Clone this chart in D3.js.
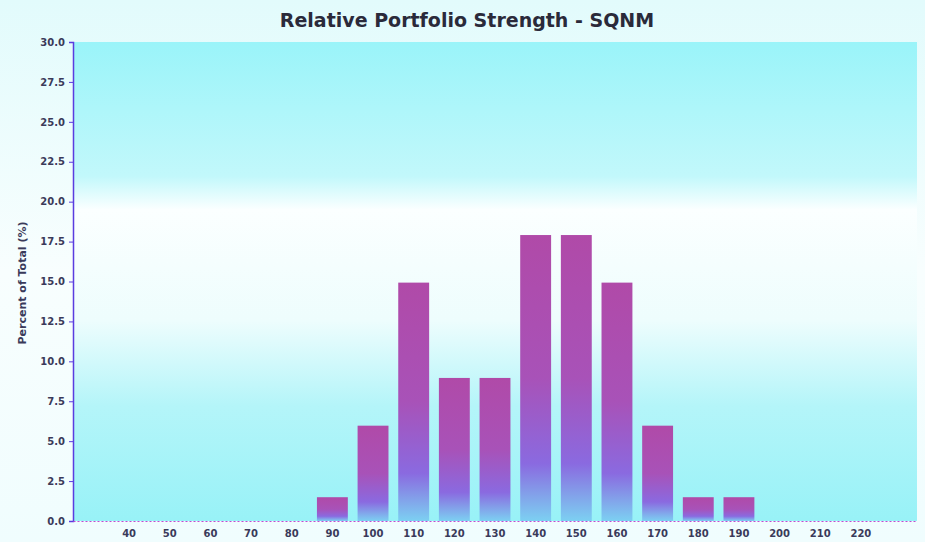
<!DOCTYPE html>
<html>
<head>
<meta charset="utf-8">
<script src="https://cdn.jsdelivr.net/npm/d3@7"></script>
<style>
  body { margin: 0; background: #fff; }
  svg { display: block; font-family: Arial, "Liberation Sans", sans-serif; }
</style>
</head>
<body>
<div id="chart"></div>
<script>
// Data
var categories = ["40","50","60","70","80","90","100","110","120","130","140","150","160","170","180","190","200","210","220"];
var percents   = [0, 0, 0, 0, 0, 1.49, 5.97, 14.93, 8.96, 8.96, 17.91, 17.91, 14.93, 5.97, 1.49, 1.49, 0, 0, 0];
var yTicks = [0, 2.5, 5, 7.5, 10, 12.5, 15, 17.5, 20, 22.5, 25, 27.5, 30];

var W = 925, H = 542;
var margin = {top: 42, right: 8, bottom: 21, left: 73};
var width = W - margin.left - margin.right;
var height = H - margin.top - margin.bottom;

var svg = d3.select("#chart").append("svg")
	.attr("width", W)
	.attr("height", H);

var defs = svg.append("defs");

// page background: faint cyan wash
var pageGrad = defs.append("linearGradient")
	.attr("id", "pageGrad").attr("x1", 0).attr("y1", 0).attr("x2", 0).attr("y2", 1);
pageGrad.append("stop").attr("offset", "0%").attr("stop-color", "#e2fbfc");
pageGrad.append("stop").attr("offset", "50%").attr("stop-color", "#f8fefe");
pageGrad.append("stop").attr("offset", "100%").attr("stop-color", "#f0fdfe");

// plot background: cyan top, white middle, cyan bottom
var plotGrad = defs.append("linearGradient")
	.attr("id", "plotGrad").attr("x1", 0).attr("y1", 0).attr("x2", 0).attr("y2", 1);
plotGrad.append("stop").attr("offset", "0%").attr("stop-color", "#9af4f9");
plotGrad.append("stop").attr("offset", "28%").attr("stop-color", "#c2f8fb");
plotGrad.append("stop").attr("offset", "35%").attr("stop-color", "#fbffff");
plotGrad.append("stop").attr("offset", "58%").attr("stop-color", "#eefdfd");
plotGrad.append("stop").attr("offset", "76%").attr("stop-color", "#b4f5f9");
plotGrad.append("stop").attr("offset", "100%").attr("stop-color", "#98f2f7");

// bar fill: magenta/purple top fading to cyan at bottom
var barGrad = defs.append("linearGradient")
	.attr("id", "barGrad").attr("x1", 0).attr("y1", 0).attr("x2", 0).attr("y2", 1);
barGrad.append("stop").attr("offset", "0%").attr("stop-color", "#b04aa8");
barGrad.append("stop").attr("offset", "50%").attr("stop-color", "#a852b8");
barGrad.append("stop").attr("offset", "80%").attr("stop-color", "#8a6ae0");
barGrad.append("stop").attr("offset", "100%").attr("stop-color", "#7cd0f2");

svg.append("rect")
	.attr("width", W).attr("height", H)
	.attr("fill", "url(#pageGrad)");

var g = svg.append("g")
	.attr("transform", "translate(" + margin.left + "," + margin.top + ")");

g.append("rect")
	.attr("width", width).attr("height", height)
	.attr("fill", "url(#plotGrad)");

var x = d3.scaleBand()
	.domain(categories)
	.range([0, width])
	.paddingInner(0.24)
	.paddingOuter(1.0);

var y = d3.scaleLinear()
	.domain([0, 30])
	.range([height, 0]);

// bars
g.selectAll(".bar")
	.data(categories.map(function(c, i) { return {cat: c, val: percents[i]}; })
		.filter(function(d) { return d.val > 0; }))
	.enter().append("rect")
	.attr("class", "bar")
	.attr("x", function(d) { return x(d.cat); })
	.attr("y", function(d) { return y(d.val); })
	.attr("width", x.bandwidth())
	.attr("height", function(d) { return height - y(d.val); })
	.attr("fill", "url(#barGrad)");

// axes
var yAxis = g.append("g")
	.call(d3.axisLeft(y).tickValues(yTicks).tickFormat(d3.format(".1f")).tickSize(4).tickPadding(4));
yAxis.select(".domain").attr("stroke", "#5a3ce0").attr("stroke-width", 1.5);
yAxis.selectAll(".tick line").attr("stroke", "#5a3ce0");

var xAxis = g.append("g")
	.attr("transform", "translate(0," + height + ")")
	.call(d3.axisBottom(x).tickSize(0).tickPadding(9));
xAxis.select(".domain").attr("stroke", "#c04ad0").attr("stroke-dasharray", "2,2").attr("stroke-width", 1.2);

svg.selectAll(".tick text")
	.attr("fill", "#3a3a5a")
	.style("font-family", "'DejaVu Sans', sans-serif")
	.style("font-size", "10px")
	.style("font-weight", "bold");

// y label
svg.append("text")
	.attr("transform", "translate(26,283) rotate(-90)")
	.attr("text-anchor", "middle")
	.attr("fill", "#3a3a5a")
	.style("font-family", "'DejaVu Sans', sans-serif")
	.style("font-size", "11px")
	.style("font-weight", "bold")
	.text("Percent of Total (%)");

// title
svg.append("text")
	.attr("x", 467)
	.attr("y", 27)
	.attr("text-anchor", "middle")
	.attr("fill", "#2a2a3a")
	.style("font-family", "'DejaVu Sans', sans-serif")
	.style("font-size", "19px")
	.style("font-weight", "bold")
	.text("Relative Portfolio Strength - SQNM");
</script>
</body>
</html>
